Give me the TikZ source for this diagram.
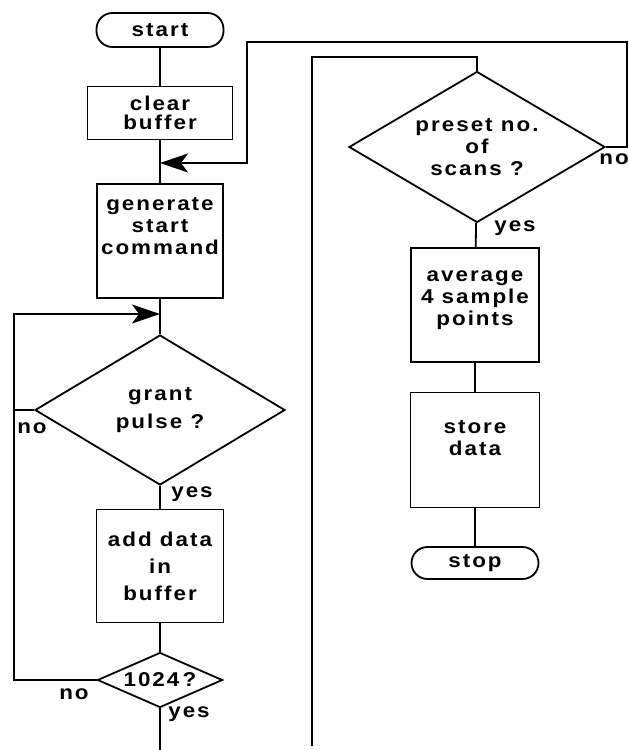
\documentclass[tikz,border=0pt]{standalone}
\usepackage{fontspec}
\setmainfont{Liberation Sans}[FakeStretch=1.12,LetterSpace=10]
\usetikzlibrary{shapes.geometric, arrows.meta}

\tikzset{
  chart/.style={line width=1.8pt, font=\bfseries\fontsize{20}{22}\selectfont},
  term/.style={draw, rounded corners=16pt, minimum width=127pt, minimum height=34pt, inner sep=0pt},
  stepbox/.style={draw, align=center, inner sep=0pt},
  decide/.style={draw, diamond, align=center, inner sep=0pt},
  flow/.style={-{Stealth[length=28pt,width=19pt,inset=7pt]}},
  tag/.style={inner sep=0pt}
}

\begin{document}
\begin{tikzpicture}[x=1pt, y=-1pt, chart]
\useasboundingbox (0,0) rectangle (629,750);

% left column
\node [term] (start) at (160,30) {start};
\node [stepbox, minimum width=145pt, minimum height=53pt, font=\bfseries\fontsize{20}{19}\selectfont] (clear) at (160,113) {clear\\buffer};
\node [stepbox, minimum width=126pt, minimum height=114pt, text depth=30pt] (gen) at (160,241) {generate\\start\\command};
\node [decide, aspect=1.67, minimum width=250pt, minimum height=150pt] (grant) at (160,410) {grant\\[6pt]pulse ?};
\node [stepbox, minimum width=127pt, minimum height=113pt, font=\bfseries\fontsize{20}{27}\selectfont] (add) at (160,566) {add data\\in\\buffer};
\node [decide, aspect=2.27, minimum width=125pt, minimum height=55pt] (count) at (160,680) {1024\,?};

% right column
\node [decide, aspect=1.7, minimum width=256pt, minimum height=151pt] (scans) at (477,147) {preset no.\\of\\scans ?};
\node [stepbox, minimum width=128pt, minimum height=114pt, text depth=14pt] (avg) at (475,305) {average\\4 sample\\points};
\node [stepbox, minimum width=129pt, minimum height=115pt, text depth=24pt] (store) at (475,450) {store\\data};
\node [term, minimum height=32pt] (stop) at (475,563) {stop};

% branch labels
\node [tag] (grantno) at (32,428) {no};
\node [tag] (grantyes) at (192,494) {yes};
\node [tag] (countno) at (74,694) {no};
\node [tag] (countyes) at (189,714) {yes};
\node [tag] (scansyes) at (515,228) {yes};
\node [tag] (scansno) at (614,159) {no};

% joints and loose ends
\coordinate (join1) at (160,163);
\coordinate (join2) at (160,314);
\coordinate (loopL) at (14,410);
\coordinate (loopT) at (247,42);
\coordinate (backR) at (312,57);
\coordinate (endL) at (160,750);
\coordinate (endR) at (312,746);

\draw (start) -- (clear);
\draw (clear) -- (gen);
\draw (gen) -- (grant);
\draw (grant) -- (add);
\draw (add) -- (count);
\draw (count) -- (endL);
\draw [flow] (grant.west) -- (loopL) |- (join2);
\draw (count.west) -| (loopL);

\draw (endR) -- (backR) -| (scans.north);
\draw (scans) -- (avg);
\draw (avg) -- (store);
\draw (store) -- (stop);
\draw [flow] (scans.east) -- ++(21,0) |- (loopT) |- (join1);

\end{tikzpicture}
\end{document}
